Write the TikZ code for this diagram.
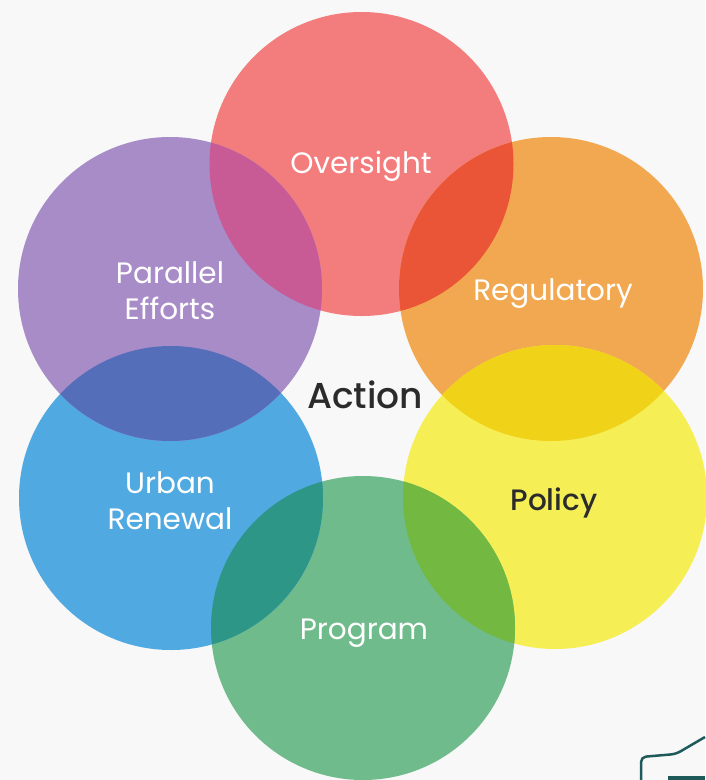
\documentclass[tikz,border=0pt]{standalone}
\usepackage{fontspec}
\setmainfont{Poppins}
\newfontfamily\medfont{Poppins}[UprightFont=* Medium]
\definecolor{bg}{HTML}{F8F8F8}
\definecolor{cOv}{HTML}{F37D7D}
\definecolor{cRg}{HTML}{F2A850}
\definecolor{cPo}{HTML}{F5EE55}
\definecolor{cPr}{HTML}{70BB8C}
\definecolor{cUr}{HTML}{50AAE1}
\definecolor{cPa}{HTML}{A88CC8}
\definecolor{cOvRg}{HTML}{EA5537}
\definecolor{cRgPo}{HTML}{F0D219}
\definecolor{cPoPr}{HTML}{73B941}
\definecolor{cPrUr}{HTML}{2D9687}
\definecolor{cUrPa}{HTML}{556EB9}
\definecolor{cPaOv}{HTML}{C85A96}
\definecolor{darktext}{HTML}{2B2B2B}
\definecolor{frag}{HTML}{1F5A5A}
\begin{document}
\begin{tikzpicture}[x=1pt,y=-1pt,
  disc/.style={circle, minimum size=304pt, inner sep=0pt, draw=none},
  lbl/.style={font=\fontsize{29.5}{36}\selectfont, text=white, align=center, inner sep=0pt},
  darklbl/.style={font=\medfont\fontsize{29.5}{36}\selectfont, text=darktext, align=center, inner sep=0pt},
  centerlbl/.style={font=\medfont\fontsize{36}{40}\selectfont, text=darktext, inner sep=0pt}]
\fill[bg] (0,0) rectangle (705,780);
\useasboundingbox (0,0) rectangle (705,780);
% discs
\node[disc, fill=cOv] (ov) at (361.5,164) {};
\node[disc, fill=cRg] (rg) at (551,289) {};
\node[disc, fill=cPo] (po) at (555,497) {};
\node[disc, fill=cPr] (pr) at (363,628) {};
\node[disc, fill=cUr] (ur) at (171,498) {};
\node[disc, fill=cPa] (pa) at (170,289) {};
% overlaps
\begin{scope}\clip (ov.center) circle[radius=152pt]; \fill[cOvRg] (rg.center) circle[radius=152pt];\end{scope}
\begin{scope}\clip (rg.center) circle[radius=152pt]; \fill[cRgPo] (po.center) circle[radius=152pt];\end{scope}
\begin{scope}\clip (po.center) circle[radius=152pt]; \fill[cPoPr] (pr.center) circle[radius=152pt];\end{scope}
\begin{scope}\clip (pr.center) circle[radius=152pt]; \fill[cPrUr] (ur.center) circle[radius=152pt];\end{scope}
\begin{scope}\clip (ur.center) circle[radius=152pt]; \fill[cUrPa] (pa.center) circle[radius=152pt];\end{scope}
\begin{scope}\clip (pa.center) circle[radius=152pt]; \fill[cPaOv] (ov.center) circle[radius=152pt];\end{scope}
% labels
\node[lbl] (tov) at (361,166) {Oversight};
\node[lbl] (trg) at (553,294) {Regulatory};
\node[darklbl] (tpo) at (554,503) {Policy};
\node[lbl] (tpr) at (364,633) {Program};
\node[lbl] (tur) at (170,501) {Urban\\Renewal};
\node[lbl] (tpa) at (170,291) {Parallel\\Efforts};
\node[centerlbl] (act) at (365,395) {Action};
% cut-off fragment at the lower right corner
\coordinate (f1) at (641,780);
\coordinate (f2) at (641,757);
\coordinate (f3) at (676,754);
\coordinate (f4) at (705,737);
\draw[frag, line width=2.5pt, rounded corners=5pt] (f1) -- (f2) -- (f3) -- (f4);
\fill[frag] (668,776) rectangle (705,780);
\end{tikzpicture}
\end{document}
